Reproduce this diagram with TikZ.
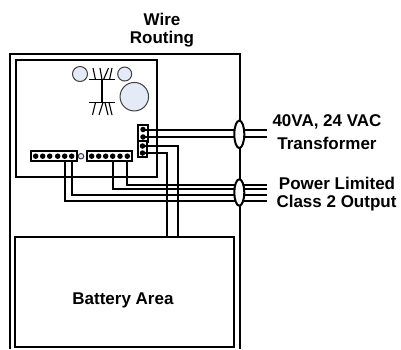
\documentclass[tikz,border=0pt]{standalone}
\usepackage{fontspec}
\setmainfont{Liberation Sans}
\usetikzlibrary{shapes.geometric}
\definecolor{blueA}{HTML}{E4EAF6}
\tikzset{
  wire/.style={line width=2pt,black},
  frame/.style={line width=2pt,black},
  part/.style={draw=black!75,line width=1pt,fill=blueA,circle,inner sep=0pt},
  strip/.style={draw=black,line width=2pt,fill=white,inner sep=0pt,minimum width=#1,minimum height=9.5pt},
  vstrip/.style={draw=black,line width=2pt,fill=white,inner sep=0pt},
  pin/.style={circle,fill=black,inner sep=0pt,minimum size=5.5pt},
  lbl/.style={font=\fontsize{17}{19}\bfseries\selectfont,black,inner sep=0pt,anchor=center},
  clamp/.style={draw=black,line width=2pt,fill=white,ellipse,minimum width=10pt,inner sep=0pt},
}
\begin{document}
\begin{tikzpicture}[x=1pt,y=-1pt]
\useasboundingbox (0,0) rectangle (401,349);
\fill[white] (0,0) rectangle (401,349);
% enclosure
\draw[frame] (10,349) -- (10,53.5) -- (239.5,53.5) -- (239.5,349);
% board parts
\node[part,minimum size=15pt] (c1) at (80,74) {};
\node[part,minimum size=14pt] (c2) at (124.7,74) {};
\node[part,minimum size=28.5pt] (c3) at (134.3,96.7) {};
\node[part,minimum size=5.5pt] (c4) at (81,156.2) {};
% transformer symbol
\coordinate (t1) at (102,79.7);
\coordinate (t2) at (102,102.5);
\draw[black,line width=1.2pt] (t1) -- (t2) (89,79.7) -- (115,79.7) (89,102.5) -- (115,102.5);
\draw[black,line width=1.1pt] (93,68) -- (95.5,79.7) (100,68) -- (102,79.7) (108.5,68) -- (103.5,79.7) (112,68) -- (109.5,79.7);
\draw[black,line width=1.1pt] (95.5,102.5) -- (92.5,115) (103,102.5) -- (99,115) (105,102.5) -- (108,115) (109,102.5) -- (112,115);
% wire coordinates
\coordinate (e1) at (267,130);
\coordinate (e2) at (267,136.8);
\coordinate (e3) at (267,184.6);
\coordinate (e4) at (267,189.2);
\coordinate (e5) at (267,195);
\coordinate (e6) at (267,200.5);
\coordinate (b1) at (166.7,237);
\coordinate (b2) at (177.7,237);
% wires
\draw[wire] (143,130) -- (e1);
\draw[wire] (143,136.8) -- (e2);
\draw[wire] (127.3,156) |- (e3);
\draw[wire] (112.7,156) |- (e4);
\draw[wire] (71.7,156) |- (e5);
\draw[wire] (64.7,156) |- (e6);
\draw[wire] (142.5,153) -| (b1);
\draw[wire] (142.5,146) -| (b2);
\draw[frame] (15.5,177) -- (15.5,59.5) -- (157,59.5) -- (157,177) -- cycle;
% terminal strips
\node[strip=45.5pt] (s1) at (54,156.2) {};
\node[strip=45.5pt] (s2) at (109.3,156.2) {};
\foreach \x in {35.7,42.7,49.7,57.7,64.7,71.7} \node[pin] at (\x,156.2) {};
\foreach \x in {91.7,98.7,105.7,112.7,120,127.3} \node[pin] at (\x,156.2) {};
\node[vstrip,minimum width=10pt,minimum height=16.5pt] (v1) at (142.7,133.3) {};
\node[vstrip,minimum width=9pt,minimum height=16pt] (v2) at (142.5,149) {};
\foreach \y in {129.5,137} \node[pin] at (143,\y) {};
\foreach \y in {146,153} \node[pin] at (142.5,\y) {};
\draw[wire] (143,130) -- (152,130) (143,136.8) -- (152,136.8) (142.5,146) -- (152,146) (142.5,153) -- (152,153);
% clamps
\node[clamp,minimum height=27.5pt] (o1) at (239.3,134.3) {};
\node[clamp,minimum height=26.5pt] (o2) at (239.3,192.5) {};
% battery
\node[draw=black,line width=2pt,fill=white,minimum width=218.5pt,minimum height=110pt,inner sep=0pt] (batt) at (124.7,292) {};
\node[lbl] (tb) at (123,300.5) {Battery Area};
% labels
\node[lbl] (t1a) at (162,19.5) {Wire};
\node[lbl] (t1b) at (162,39.5) {Routing};
\node[lbl] (t2a) at (327,122) {40VA, 24 VAC};
\node[lbl] (t2b) at (327,143) {Transformer};
\node[lbl] (t3a) at (337,183.5) {Power Limited};
\node[lbl] (t3b) at (336.5,203.5) {Class 2 Output};
\end{tikzpicture}
\end{document}
